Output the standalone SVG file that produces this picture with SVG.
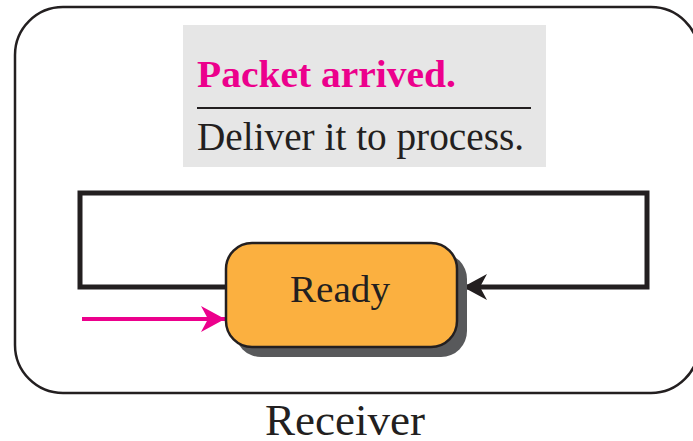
<svg xmlns="http://www.w3.org/2000/svg" width="693" height="441" viewBox="0 0 693 441">
  <defs>
    <style>
      .serif { font-family: "Liberation Serif", "Times New Roman", serif; }
      .loop { fill: none; stroke: #231f20; stroke-width: 5; }
    </style>
    <marker id="headBlack" markerUnits="userSpaceOnUse" markerWidth="28" markerHeight="30" refX="24" refY="15" orient="auto">
      <path d="M0,2 L24,15 L0,28 L7,15 Z" fill="#231f20"/>
    </marker>
    <marker id="headPink" markerUnits="userSpaceOnUse" markerWidth="28" markerHeight="30" refX="24" refY="15" orient="auto">
      <path d="M0,2 L24,15 L0,28 L7,15 Z" fill="#ec008c"/>
    </marker>
  </defs>

  <rect width="693" height="441" fill="#ffffff"/>

  <!-- receiver frame -->
  <g id="receiver">
    <rect x="15" y="7" width="684" height="386" rx="48" ry="48" fill="#ffffff" stroke="#231f20" stroke-width="2.5"/>
    <text x="345" y="435" class="serif" font-size="45" text-anchor="middle" textLength="160" lengthAdjust="spacingAndGlyphs" fill="#231f20">Receiver</text>
  </g>

  <!-- event / action label -->
  <g id="transition-label">
    <rect x="183" y="25" width="363" height="142" fill="#e6e6e6"/>
    <text x="197" y="87" class="serif" font-size="37" font-weight="bold" textLength="259" lengthAdjust="spacingAndGlyphs" fill="#ec008c">Packet arrived.</text>
    <line x1="197" y1="108" x2="531" y2="108" stroke="#231f20" stroke-width="2"/>
    <text x="197" y="150" class="serif" font-size="40" textLength="327" lengthAdjust="spacingAndGlyphs" fill="#231f20">Deliver it to process.</text>
  </g>

  <!-- connectors -->
  <g id="connectors">
    <polyline class="loop" points="226,287 80,287 80,193 647,193 647,287 463,287" marker-end="url(#headBlack)"/>
    <line x1="82" y1="319" x2="225" y2="319" stroke="#ec008c" stroke-width="4" marker-end="url(#headPink)"/>
  </g>

  <!-- state -->
  <g id="ready">
    <rect x="235" y="253" width="232" height="104" rx="26" ry="26" fill="#58595b"/>
    <rect x="226" y="243" width="231" height="104" rx="26" ry="26" fill="#fbb040" stroke="#231f20" stroke-width="2.5"/>
    <text x="340" y="302" class="serif" font-size="38" text-anchor="middle" textLength="100" lengthAdjust="spacingAndGlyphs" fill="#231f20">Ready</text>
  </g>
</svg>
